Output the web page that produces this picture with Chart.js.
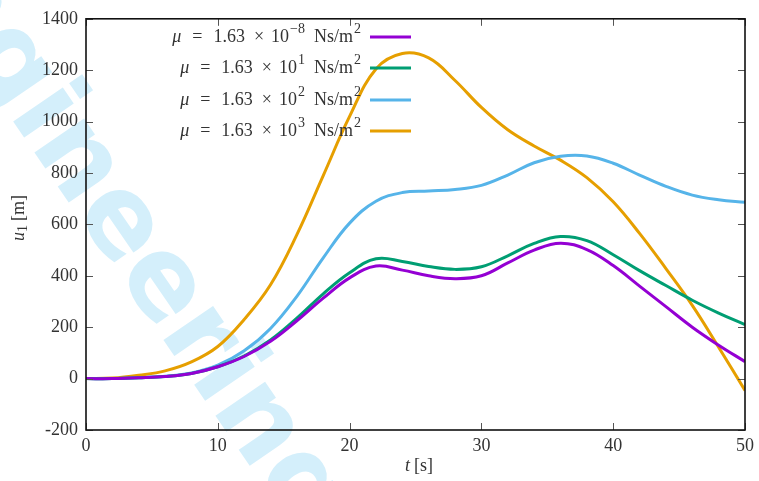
<!DOCTYPE html>
<html>
<head>
<meta charset="utf-8">
<script src="https://cdn.jsdelivr.net/npm/chart.js@4"></script>
<style>
  html, body { margin: 0; padding: 0; background: #fff; }
  #wrap { width: 759px; height: 481px; }
</style>
</head>
<body>
<div id="wrap"><canvas id="chart" width="759" height="481"></canvas></div>
<script>
// ---------- data ----------
const times   = [0, 2, 4, 6, 8, 10, 12, 14, 16, 18, 20, 22, 24, 26, 28, 30, 32, 34, 36, 38, 40, 42, 44, 46, 48, 50];
const uMuNeg8 = [0, 0, 3, 8, 20, 46, 86, 145, 225, 313, 392, 438, 422, 400, 389, 400, 450, 500, 527, 502, 440, 360, 280, 200, 130, 66];
const uMu1    = [0, 0, 3, 8, 20, 46, 88, 150, 235, 330, 412, 466, 456, 436, 425, 435, 478, 526, 553, 537, 482, 420, 362, 305, 255, 210];
const uMu2    = [0, 0, 3, 9, 22, 52, 108, 195, 320, 470, 605, 690, 724, 730, 736, 752, 792, 840, 865, 866, 838, 792, 748, 714, 696, 686];
const uMu3    = [0, 2, 13, 30, 65, 125, 230, 365, 560, 790, 1020, 1205, 1265, 1248, 1160, 1055, 968, 905, 850, 782, 688, 565, 428, 285, 122, -46];

const seriesValues = [uMuNeg8, uMu1, uMu2, uMu3];
const exponents = ['\u22128', '1', '2', '3'];
const colors = ['#9400d3', '#009e73', '#56b4e9', '#e69f00'];

const serif = '"Liberation Serif", "DejaVu Serif", serif';
const textColor = '#333';
const fs = 18;

// text runs: italic / superscript / subscript pieces, plus fixed gaps (math spacing)
function pieceFont(p, size) {
    const s = p.sup || p.sub ? Math.round(size * 0.78) : size;
    return (p.it ? 'italic ' : '') + s + 'px ' + serif;
}
function richWidth(ctx, parts, size) {
    let w = 0;
    parts.forEach(p => {
        ctx.font = pieceFont(p, size);
        w += ctx.measureText(p.t).width + (p.gap || 0);
    });
    return w;
}
function drawRich(ctx, parts, x, y, size) {
    parts.forEach(p => {
        ctx.font = pieceFont(p, size);
        let dy = 0;
        if (p.sup) dy = -size * 0.4;
        if (p.sub) dy = size * 0.22;
        ctx.fillText(p.t, x, y + dy);
        x += ctx.measureText(p.t).width + (p.gap || 0);
    });
}

// watermark behind everything
const watermarkPlugin = {
    id: 'watermark',
    beforeDraw(chart) {
        const ctx = chart.ctx;
        const size = 110;
        ctx.save();
        ctx.font = 'bold ' + size + 'px "DejaVu Sans"';
        const u0 = ctx.measureText('Eng').width + ctx.measureText('i').width / 2;
        const ang = 55.5 * Math.PI / 180;
        const cx = 44, cy = 112;
        const ox = cx - Math.cos(ang) * u0 + Math.sin(ang) * (-0.28 * size);
        const oy = cy - Math.sin(ang) * u0 - Math.cos(ang) * (-0.28 * size);
        ctx.translate(ox, oy);
        ctx.rotate(ang);
        ctx.fillStyle = '#d4effb';
        ctx.fillText('Engineering', 0, 0);
        ctx.restore();
    }
};

// frame, inward ticks, axis titles, key
const framePlugin = {
    id: 'frame',
    afterDatasetsDraw(chart) {
        const { ctx, chartArea: { left, right, top, bottom } } = chart;
        const xs = chart.scales.x, ys = chart.scales.y;
        ctx.save();
        ctx.strokeStyle = '#555';
        ctx.lineWidth = 1;
        ctx.beginPath();
        xs.ticks.forEach(t => {
            const px = Math.round(xs.getPixelForValue(t.value)) + 0.5;
            ctx.moveTo(px, bottom); ctx.lineTo(px, bottom - 7);
            ctx.moveTo(px, top); ctx.lineTo(px, top + 7);
        });
        ys.ticks.forEach(t => {
            const py = Math.round(ys.getPixelForValue(t.value)) + 0.5;
            ctx.moveTo(left, py); ctx.lineTo(left + 7, py);
            ctx.moveTo(right, py); ctx.lineTo(right - 7, py);
        });
        ctx.stroke();
        ctx.strokeStyle = '#111';
        ctx.lineWidth = 1.6;
        ctx.strokeRect(left, top, right - left, bottom - top);

        // key
        ctx.fillStyle = textColor;
        ctx.textBaseline = 'middle';
        const rowY = [37, 68, 100, 131];
        seriesValues.forEach((_, i) => {
            const parts = [
                { t: '\u03bc', it: true, gap: 11 },
                { t: '=', gap: 11 },
                { t: '1.63', gap: 9 },
                { t: '\u00d7', gap: 7 },
                { t: '10', gap: 1 },
                { t: exponents[i], sup: true, gap: 9 },
                { t: 'Ns/m', gap: 1 },
                { t: '2', sup: true }
            ];
            const w = richWidth(ctx, parts, fs);
            drawRich(ctx, parts, 361 - w, rowY[i], fs);
            ctx.strokeStyle = colors[i];
            ctx.lineWidth = 3;
            ctx.beginPath();
            ctx.moveTo(370, rowY[i]); ctx.lineTo(411, rowY[i]);
            ctx.stroke();
        });

        // x title
        const xt = [{ t: 't', it: true, gap: 4 }, { t: '[s]' }];
        const xw = richWidth(ctx, xt, fs);
        drawRich(ctx, xt, 419 - xw / 2, 466, fs);

        // y title
        ctx.translate(19, 218);
        ctx.rotate(-Math.PI / 2);
        const yt = [{ t: 'u', it: true }, { t: '1', sub: true, gap: 4 }, { t: '[m]' }];
        const yw = richWidth(ctx, yt, fs);
        drawRich(ctx, yt, -yw / 2, 0, fs);
        ctx.restore();
    }
};

const datasets = seriesValues.map((vals, i) => ({
    data: times.map((t, k) => ({ x: t, y: vals[k] })),
    borderColor: colors[i],
    borderWidth: 3,
    pointRadius: 0,
    fill: false,
    tension: 0.4
}));

new Chart(document.getElementById('chart'), {
    type: 'line',
    data: { datasets },
    options: {
        responsive: false,
        animation: false,
        devicePixelRatio: 1,
        layout: { padding: { left: 0, right: 12, top: 13, bottom: 0 } },
        plugins: { legend: { display: false }, tooltip: { enabled: false } },
        scales: {
            x: {
                type: 'linear', min: 0, max: 50,
                grid: { display: false, drawTicks: false },
                border: { display: false },
                ticks: { stepSize: 10, padding: 5, color: textColor, font: { family: serif, size: fs }, callback: v => String(v) },
                afterFit: s => { s.height = 51; }
            },
            y: {
                min: -200, max: 1400,
                grid: { display: false, drawTicks: false },
                border: { display: false },
                ticks: { stepSize: 200, padding: 8, color: textColor, font: { family: serif, size: fs }, callback: v => String(v) },
                afterFit: s => { s.width = 86; }
            }
        }
    },
    plugins: [watermarkPlugin, framePlugin]
});
</script>
</body>
</html>
